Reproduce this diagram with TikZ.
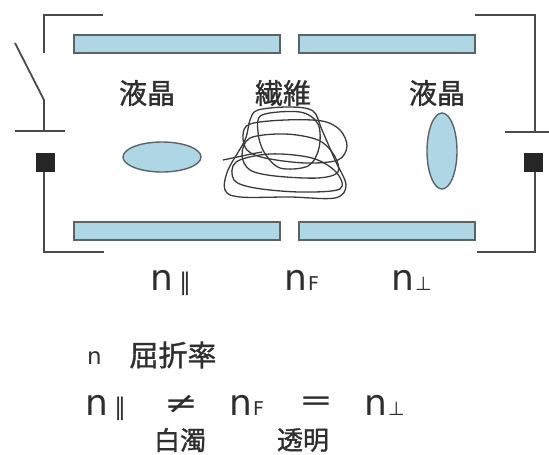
\documentclass[tikz,border=0pt]{standalone}
\usepackage{fontspec}
\usepackage{graphicx}
\setmainfont{DejaVu Sans}
\newfontfamily\jp[FakeBold=1.2]{Noto Sans CJK JP}
\usetikzlibrary{shapes.geometric}
\definecolor{wirecol}{HTML}{4A4A4A}
\definecolor{platefill}{HTML}{AED6E4}
\definecolor{platebd}{HTML}{5A6468}
\definecolor{fibercol}{HTML}{3A3A3A}
\definecolor{inkcol}{HTML}{2E2E2E}
% letter n with a small index beside it
\newcommand{\nidx}[3]{{\fontsize{36}{36}\selectfont n}\hspace{#1pt}{\fontsize{#2}{#2}\selectfont #3}}
\begin{document}
\begin{tikzpicture}[x=1pt,y=-1pt,
  wire/.style={draw=wirecol,line width=1.8pt},
  plate/.style={draw=platebd,fill=platefill,line width=1.6pt,inner sep=0pt,minimum height=18pt},
  lc/.style={draw=platebd,fill=platefill,line width=1.4pt,ellipse,inner sep=0pt},
  cell/.style={fill=black!85,inner sep=0pt,minimum width=19pt,minimum height=19pt},
  jlabel/.style={font=\jp\fontsize{28}{28}\selectfont,text=inkcol,inner sep=0pt},
  nsym/.style={inner sep=0pt,text=inkcol,anchor=base west},
  fiber/.style={draw=fibercol,line width=1.3pt}]
\useasboundingbox (0,0) rectangle (549,455);
\clip (0,0) rectangle (549,455);

% electrode plates
\node[plate,minimum width=206pt] (pTL) at (177,44) {};
\node[plate,minimum width=176pt] (pTR) at (387,44) {};
\node[plate,minimum width=206pt] (pBL) at (177,231) {};
\node[plate,minimum width=176pt] (pBR) at (387,231) {};

% left circuit with switch and cell
\coordinate (lTop) at (103,15);
\coordinate (lCorner) at (44,15);
\coordinate (lContact) at (44,53);
\coordinate (swTip) at (15,43);
\coordinate (swPivot) at (44,100);
\coordinate (lPlate) at (44,131);
\coordinate (lPlateA) at (15,131);
\coordinate (lPlateB) at (65,131);
\node[cell] (cellL) at (45,162) {};
\coordinate (lBotCorner) at (44,252);
\coordinate (lBot) at (104,252);
\draw[wire] (lTop) -- (lCorner) -- (lContact);
\draw[wire] (swTip) -- (swPivot) -- (lPlate);
\draw[wire] (lPlateA) -- (lPlateB);
\draw[wire] (cellL.south -| lCorner) -- (lBotCorner) -- (lBot);

% right circuit with cell
\coordinate (rTop) at (475,15);
\coordinate (rCorner) at (535,15);
\coordinate (rPlate) at (535,132);
\coordinate (rPlateA) at (505,132);
\coordinate (rPlateB) at (549,132);
\node[cell] (cellR) at (533,162) {};
\coordinate (rBotCorner) at (535,252);
\coordinate (rBot) at (477,252);
\draw[wire] (rTop) -- (rCorner) -- (rPlate);
\draw[wire] (rPlateA) -- (rPlateB);
\draw[wire] (cellR.south -| rCorner) -- (rBotCorner) -- (rBot);

% labels above the cell contents
\node[jlabel] (lcL) at (147,93) {液晶};
\node[jlabel] (fib) at (283,93) {繊維};
\node[jlabel] (lcR) at (437,93) {液晶};

% liquid crystal molecules
\node[lc,minimum width=78pt,minimum height=30pt] (molL) at (162,157) {};
\node[lc,minimum width=30pt,minimum height=76pt] (molR) at (442,151) {};

% tangled fibre: nested, roughly boxy loops
\draw[fiber] plot[smooth cycle,tension=0.55] coordinates {(258,110) (290,107) (313,111) (322,130) (335,160) (346,185) (335,198) (290,197) (240,197) (225,190) (228,170) (245,140) (250,120)};
\draw[fiber] plot[smooth cycle,tension=0.55] coordinates {(250,124) (285,120) (322,121) (340,130) (347,146) (338,160) (305,163) (265,158) (247,150) (243,135)};
\draw[fiber] plot[smooth cycle,tension=0.55] coordinates {(250,138) (285,134) (318,140) (334,155) (338,172) (318,178) (275,176) (250,170) (242,155)};
\draw[fiber] plot[smooth cycle,tension=0.55] coordinates {(262,115) (300,112) (318,124) (319,148) (308,166) (280,168) (264,152) (258,132)};
\draw[fiber] plot[smooth cycle,tension=0.55] coordinates {(236,162) (270,154) (312,158) (336,172) (340,189) (300,192) (255,188) (234,180)};
\draw[fiber] (223,160) .. controls (238,157) and (250,154) .. (262,152);

% refractive indices under the cell
\node[nsym] (nPar) at (150,290) {\nidx{6}{24}{∥}};
\node[nsym] (nF) at (284,290) {\nidx{1}{19}{F}};
\node[nsym] (nPerp) at (391,290) {\nidx{1}{19}{⊥}};

% legend and relation
\node[nsym] (nLeg) at (87,364) {\fontsize{23}{23}\selectfont n};
\node[jlabel,font=\jp\fontsize{29}{29}\selectfont] (nLegTxt) at (173,355) {屈折率};
\node[nsym] (rPar) at (85,415) {\nidx{6}{24}{∥}};
\node[nsym,anchor=center] (rNe) at (181,404) {\scalebox{1.35}[1]{\fontsize{30}{30}\selectfont ≠}};
\node[nsym] (rF) at (229,415) {\nidx{1}{19}{F}};
\node[nsym,anchor=center] (rEq) at (316,404) {\scalebox{1.35}[1]{\fontsize{30}{30}\selectfont =}};
\node[nsym] (rPerp) at (364,415) {\nidx{1}{19}{⊥}};
\node[jlabel,font=\jp\fontsize{26}{26}\selectfont] (cloudy) at (180,440) {白濁};
\node[jlabel,font=\jp\fontsize{26}{26}\selectfont] (clear) at (303,440) {透明};
\end{tikzpicture}
\end{document}
